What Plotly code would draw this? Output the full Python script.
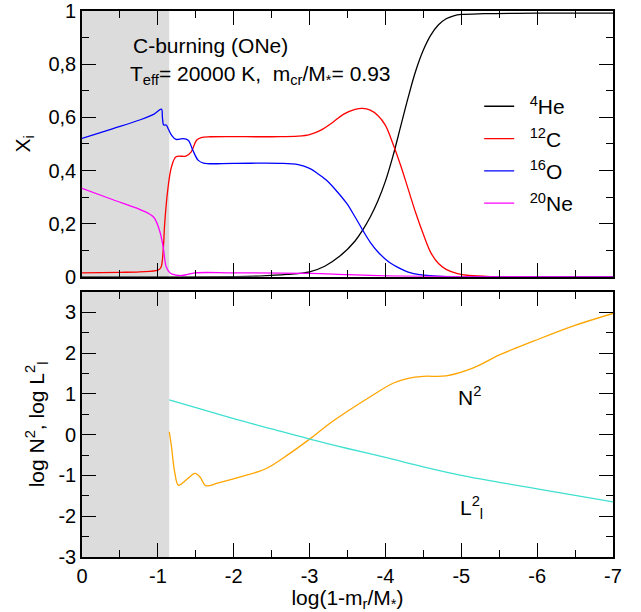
import plotly.graph_objects as go

# Abundance profiles X_i versus log(1 - m_r/M*)
HE_X = [0, -1, -2, -2.34, -2.7, -3.0, -3.2, -3.4, -3.6, -3.7, -3.8, -3.9, -4.0, -4.1,
        -4.2, -4.3, -4.4, -4.5, -4.6, -4.7, -4.8, -4.9, -5.0, -5.3, -6, -7]
HE_Y = [0, 0, 0.001, 0.003, 0.009, 0.019, 0.04, 0.078, 0.135, 0.176, 0.225, 0.285, 0.36,
        0.455, 0.565, 0.675, 0.775, 0.853, 0.91, 0.948, 0.971, 0.982, 0.987, 0.99, 0.992,
        0.992]

C_X = [0, -0.5, -0.76, -1.0, -1.04, -1.07, -1.09, -1.13, -1.18, -1.24, -1.37, -1.44,
       -1.51, -1.57, -1.7, -2.5, -2.85, -3.0, -3.15, -3.3, -3.45, -3.6, -3.7, -3.8, -3.9,
       -4.0, -4.1, -4.2, -4.3, -4.4, -4.5, -4.6, -4.7, -4.8, -4.95, -5.1, -5.4, -6, -7]
C_Y = [0.015, 0.017, 0.019, 0.025, 0.035, 0.10, 0.20, 0.326, 0.414, 0.452, 0.454, 0.47,
       0.514, 0.524, 0.527, 0.527, 0.529, 0.535, 0.552, 0.58, 0.612, 0.630, 0.634, 0.627,
       0.607, 0.57, 0.50, 0.42, 0.33, 0.24, 0.16, 0.09, 0.05, 0.028, 0.012, 0.005, 0.001,
       0, 0]

O_X = [0, -0.4, -0.76, -0.95, -1.047, -1.06, -1.077, -1.11, -1.14, -1.18, -1.24, -1.33,
       -1.40, -1.46, -1.53, -1.6, -2.0, -2.6, -2.85, -3.0, -3.1, -3.22, -3.35, -3.49,
       -3.6, -3.70, -3.8, -3.92, -4.05, -4.19, -4.3, -4.45, -4.8, -5.5, -7]
O_Y = [0.521, 0.557, 0.590, 0.612, 0.631, 0.600, 0.571, 0.571, 0.555, 0.533, 0.517, 0.52,
       0.514, 0.477, 0.439, 0.428, 0.427, 0.427, 0.422, 0.408, 0.39, 0.364, 0.325, 0.276,
       0.225, 0.176, 0.13, 0.088, 0.055, 0.032, 0.018, 0.008, 0.001, 0, 0]

NE_X = [0, -0.4, -0.76, -0.94, -1.02, -1.07, -1.11, -1.16, -1.20, -1.28, -1.36, -1.49,
        -2.0, -3.0, -3.5, -4.0, -4.5, -5.0, -7]
NE_Y = [0.333, 0.291, 0.254, 0.226, 0.176, 0.113, 0.038, 0.015, 0.009, 0.005, 0.007,
        0.015, 0.015, 0.013, 0.008, 0.004, 0.002, 0.001, 0]

# Brunt-Vaisala and Lamb frequencies (log scale)
N2_X = [-1.15, -1.18, -1.22, -1.27, -1.33, -1.40, -1.49, -1.56, -1.63, -1.8, -2.1, -2.43,
        -2.74, -3.0, -3.27, -3.53, -3.8, -4.1, -4.3, -4.5, -4.8, -5.15, -5.51, -5.95,
        -6.47, -7.0]
N2_Y = [0.07, -0.3, -0.9, -1.24, -1.18, -1.07, -0.95, -1.05, -1.25, -1.18, -1.03, -0.83,
        -0.46, -0.11, 0.28, 0.61, 0.93, 1.26, 1.38, 1.43, 1.44, 1.63, 1.96, 2.29, 2.66, 2.97]

L2_X = [-1.15, -1.5, -2.0, -2.5, -3.0, -3.5, -4.0, -4.5, -5.0, -5.5, -6.0, -6.5, -7.0]
L2_Y = [0.855, 0.66, 0.39, 0.14, -0.11, -0.34, -0.56, -0.79, -1.0, -1.17, -1.33, -1.49, -1.65]

# Convective (C-burning) core boundary
CORE_EDGE = -1.15

X_TICKS = [0, -1, -2, -3, -4, -5, -6, -7]
X_TICK_TEXT = ["0", "-1", "-2", "-3", "-4", "-5", "-6", "-7"]
XI_TICKS = [0, 0.2, 0.4, 0.6, 0.8, 1.0]
XI_TICK_TEXT = ["0", "0,2", "0,4", "0,6", "0,8", "1"]
LOG_TICKS = [-3, -2, -1, 0, 1, 2, 3]
LOG_TICK_TEXT = ["-3", "-2", "-1", "0", "1", "2", "3"]

FONT = "Liberation Sans, Arial, sans-serif"
W, H = 641, 612
ML, MR, MT, MB = 82, 28, 11, 55
SP = "\u2002"

fig = go.Figure()

species = [
    (HE_X, HE_Y, SP + "<sup>4</sup>He", "black"),
    (C_X, C_Y, SP + "<sup>12</sup>C", "#ff0000"),
    (O_X, O_Y, SP + "<sup>16</sup>O", "#0000ff"),
    (NE_X, NE_Y, SP + "<sup>20</sup>Ne", "#ff00ff"),
]
for i, (xs, ys, name, col) in enumerate(species):
    fig.add_trace(go.Scatter(
        x=xs, y=ys, name=name, mode="lines", legendgroup=f"g{i}",
        line=dict(color=col, width=1.3, shape="spline", smoothing=1.0),
        xaxis="x", yaxis="y",
    ))

fig.add_trace(go.Scatter(
    x=N2_X, y=N2_Y, mode="lines", showlegend=False,
    line=dict(color="#ffa500", width=1.3, shape="spline", smoothing=1.0),
    xaxis="x2", yaxis="y2",
))
fig.add_trace(go.Scatter(
    x=L2_X, y=L2_Y, mode="lines", showlegend=False,
    line=dict(color="#40e0d0", width=1.3, shape="spline", smoothing=1.0),
    xaxis="x2", yaxis="y2",
))

# Shaded convective core in both panels
for xr, yr in [("x", "y domain"), ("x2", "y2 domain")]:
    fig.add_shape(type="rect", xref=xr, yref=yr, x0=0, x1=CORE_EDGE, y0=0, y1=1,
                  fillcolor="#dcdcdc", line=dict(width=0), layer="below")

TOP_DOM = [0.5131, 1.0]
BOT_DOM = [0.0, 0.4856]

axis_common = dict(
    showline=True, linecolor="black", linewidth=1.6, mirror="allticks",
    ticks="inside", ticklen=14, tickwidth=1.4, tickcolor="black",
    showgrid=False, zeroline=False, automargin=False,
    tickfont=dict(family=FONT, size=20, color="black"),
)
minor_common = dict(ticks="inside", ticklen=7, tickwidth=1.4, tickcolor="black",
                    showgrid=False, tick0=0)

fig.update_layout(
    width=W, height=H,
    margin=dict(l=ML, r=MR, t=MT, b=MB, autoexpand=False),
    paper_bgcolor="white", plot_bgcolor="white",
    font=dict(family=FONT, size=20, color="black"),
    xaxis=dict(
        **axis_common, domain=[0, 1], anchor="y", range=[0, -7],
        tickmode="array", tickvals=X_TICKS, showticklabels=False,
        minor=dict(**minor_common, dtick=0.5),
    ),
    yaxis=dict(
        **axis_common, domain=TOP_DOM, anchor="x", range=[0, 1],
        tickmode="array", tickvals=XI_TICKS, ticktext=XI_TICK_TEXT,
        minor=dict(**minor_common, dtick=0.1),
        title=dict(text="X<sub>i</sub>", font=dict(family=FONT, size=21), standoff=12),
    ),
    xaxis2=dict(
        **axis_common, domain=[0, 1], anchor="y2", range=[0, -7],
        tickmode="array", tickvals=X_TICKS, ticktext=X_TICK_TEXT,
        minor=dict(**minor_common, dtick=0.5),
        title=dict(text="log(1-m<sub>r</sub>/M<sub>*</sub>)",
                   font=dict(family=FONT, size=21), standoff=4),
    ),
    yaxis2=dict(
        **axis_common, domain=BOT_DOM, anchor="x2", range=[-3, 3.5],
        tickmode="array", tickvals=LOG_TICKS, ticktext=LOG_TICK_TEXT,
        minor=dict(**minor_common, dtick=0.5),
        title=dict(text="log N<sup>2</sup>, log L<sup>2</sup><sub>l</sub>",
                   font=dict(family=FONT, size=21), standoff=8),
    ),
    legend=dict(
        x=0.748, y=0.8625, xanchor="left", yanchor="top",
        bgcolor="rgba(0,0,0,0)", borderwidth=0,
        font=dict(family=FONT, size=21, color="black"),
        tracegroupgap=2,
    ),
    showlegend=True,
)

fig.add_annotation(
    text="C-burning (ONe)", xref="paper", yref="paper",
    x=0.092, y=0.9377, xanchor="left", yanchor="middle", showarrow=False,
    font=dict(family=FONT, size=21, color="black"),
)
fig.add_annotation(
    text="T<sub>eff</sub>= 20000 K,  m<sub>cr</sub>/M<sub>*</sub>= 0.93",
    xref="paper", yref="paper",
    x=0.086, y=0.882, xanchor="left", yanchor="middle", showarrow=False,
    font=dict(family=FONT, size=21, color="black"),
)
fig.add_annotation(
    text="N<sup>2</sup>", xref="x2", yref="y2", x=-5.11, y=0.94,
    xanchor="center", yanchor="middle", showarrow=False,
    font=dict(family=FONT, size=21, color="black"),
)
fig.add_annotation(
    text="L<sup>2</sup><sub>l</sub>", xref="x2", yref="y2", x=-5.13, y=-1.79,
    xanchor="center", yanchor="middle", showarrow=False,
    font=dict(family=FONT, size=21, color="black"),
)

fig.write_html("out.html")
